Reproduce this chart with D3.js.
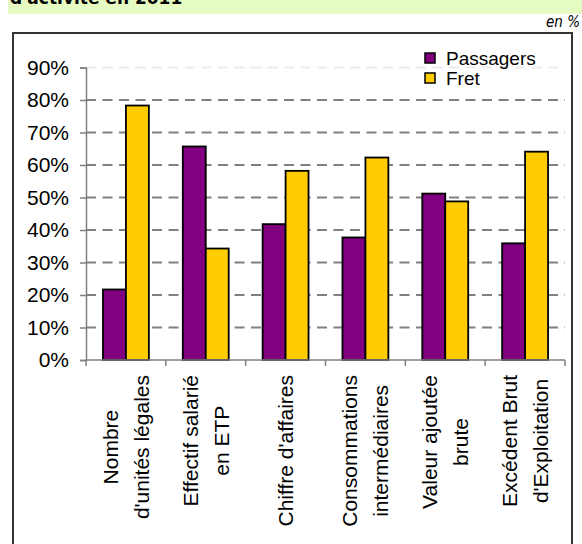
<!DOCTYPE html>
<html>
<head>
<meta charset="utf-8">
<script src="https://cdn.jsdelivr.net/npm/d3@7/dist/d3.min.js"></script>
<style>
  html, body { margin: 0; padding: 0; background: #fff; }
  svg { display: block; }
</style>
</head>
<body>
<svg id="chart" width="582" height="544"></svg>
<script>
const categories = [
  ["Nombre", "d'unités légales"],
  ["Effectif salarié", "en ETP"],
  ["Chiffre d'affaires"],
  ["Consommations", "intermédiaires"],
  ["Valeur ajoutée", "brute"],
  ["Excédent Brut", "d'Exploitation"]
];
const seriesNames = ["Passagers", "Fret"];
const passagers = [0.217, 0.657, 0.418, 0.377, 0.512, 0.359];
const fret = [0.783, 0.343, 0.582, 0.623, 0.488, 0.641];
const seriesColors = ["#800080", "#FFCC00"];
const yTicks = [0, 0.1, 0.2, 0.3, 0.4, 0.5, 0.6, 0.7, 0.8, 0.9];
const titleText = "d'activité en 2011";
const unitText = "en %";

const svg = d3.select("#chart");
const FONT = "'Liberation Sans', Arial, sans-serif";

// Title band (cropped)
svg.append("rect").attr("x", 8).attr("y", 0).attr("width", 574).attr("height", 14).attr("fill", "#e6fbc2");
svg.append("text").attr("x", 10).attr("y", 4).text(titleText)
  .attr("font-family", "'DejaVu Sans', Verdana, sans-serif").attr("font-weight", "bold").attr("font-size", 17).attr("fill", "#000");
svg.append("text").attr("x", 580).attr("y", 27).attr("text-anchor", "end").text(unitText)
  .attr("font-family", "'DejaVu Sans Condensed', 'DejaVu Sans', sans-serif").attr("font-style", "italic").attr("font-size", 15).attr("fill", "#000");

// Chart border
svg.append("rect").attr("x", 13).attr("y", 33).attr("width", 559).attr("height", 520)
  .attr("fill", "#fff").attr("stroke", "#333").attr("stroke-width", 2);

const x0 = 86, x1 = 565, yBot = 360, yTop = 67.5;
const keys = categories.map((d, i) => i);
const x = d3.scaleBand().domain(keys).range([x0, x1]).paddingInner(0.425).paddingOuter(0.2125);
const xs = d3.scaleBand().domain([0, 1]).range([0, x.bandwidth()]);
const xb = d3.scaleLinear().domain([0, categories.length]).range([x0, x1]);
const y = d3.scaleLinear().domain([0, 0.9]).range([yBot, yTop]);

// gridlines
svg.append("g").selectAll("line").data(yTicks.filter(t => t > 0)).join("line")
  .attr("x1", x0).attr("x2", x1)
  .attr("y1", d => y(d)).attr("y2", d => y(d))
  .attr("stroke", d => d >= 0.9 ? "#ececec" : "#808080")
  .attr("stroke-width", 2)
  .attr("stroke-dasharray", "10,6.5");

// y axis
const yAxis = d3.axisLeft(y).tickValues(yTicks).tickFormat(d3.format(".0%")).tickSize(6).tickPadding(11);
const gy = svg.append("g").attr("transform", `translate(${x0},0)`).call(yAxis);
gy.select(".domain").attr("stroke", "#808080").attr("stroke-width", 1.5);
gy.selectAll(".tick line").attr("stroke", "#808080").attr("stroke-width", 1.5);
gy.selectAll(".tick text").attr("font-family", FONT).attr("font-size", 21).attr("fill", "#000");

// bars
const data = keys.map(i => [passagers[i], fret[i]]);
const groups = svg.append("g").selectAll("g").data(data).join("g")
  .attr("transform", (d, i) => `translate(${x(i)},0)`);
groups.selectAll("rect").data(d => d.map((v, s) => ({ v, s }))).join("rect")
  .attr("x", d => xs(d.s)).attr("width", xs.bandwidth())
  .attr("y", d => y(d.v)).attr("height", d => yBot - y(d.v))
  .attr("fill", d => seriesColors[d.s]).attr("stroke", "#000").attr("stroke-width", 1.8);

// x axis
svg.append("line").attr("x1", x0).attr("x2", x1).attr("y1", yBot).attr("y2", yBot)
  .attr("stroke", "#808080").attr("stroke-width", 1.5);
svg.append("g").selectAll("line").data(d3.range(categories.length + 1)).join("line")
  .attr("x1", d => xb(d)).attr("x2", d => xb(d)).attr("y1", yBot).attr("y2", yBot + 6)
  .attr("stroke", "#808080").attr("stroke-width", 1.5);

// category labels (rotated)
const labelTop = 375, pitch = 31;
const lg = svg.append("g");
categories.forEach((lines, i) => {
  const cx = x(i) + x.bandwidth() / 2;
  const g = lg.append("g");
  const texts = lines.map((ln, j) => g.append("text").text(ln)
    .attr("font-family", FONT).attr("font-size", 21).attr("fill", "#000")
    .attr("text-anchor", "middle").attr("dy", "0.35em"));
  const maxLen = d3.max(texts, t => t.node().getComputedTextLength());
  const cy = labelTop + maxLen / 2;
  texts.forEach((t, j) => {
    const off = (j - (lines.length - 1) / 2) * pitch;
    t.attr("transform", `translate(${cx + off},${cy}) rotate(-90)`);
  });
});

// legend
const leg = svg.append("g").attr("transform", "translate(425,52)");
seriesNames.forEach((n, i) => {
  leg.append("rect").attr("x", 0).attr("y", i * 20 + 1).attr("width", 10).attr("height", 10)
    .attr("fill", seriesColors[i]).attr("stroke", "#000").attr("stroke-width", 1.5);
  leg.append("text").attr("x", 21).attr("y", i * 20 + 13).text(n)
    .attr("font-family", FONT).attr("font-size", 19).attr("fill", "#000");
});
</script>
</body>
</html>
